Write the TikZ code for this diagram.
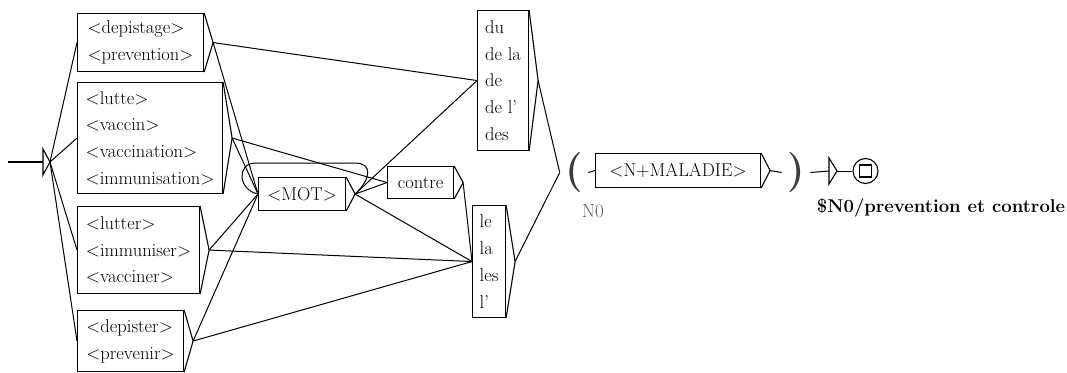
\documentclass[tikz,border=0pt]{standalone}
\usetikzlibrary{calc}

\definecolor{vargray}{RGB}{60,60,60}
\definecolor{labgray}{RGB}{95,95,95}

\tikzset{
  unibox/.style={draw, align=left, anchor=north west, inner xsep=3pt, inner ysep=0pt,
    font=\fontsize{18.5}{26.7}\selectfont},
  varpar/.style={inner xsep=5pt, inner ysep=0pt, text=vargray,
    font=\fontsize{40}{40}\selectfont\bfseries},
  link/.style={line width=1pt},
}

\begin{document}
\begin{tikzpicture}[x=1pt, y=-1pt, line width=1.1pt]
    \useasboundingbox (0,0) rectangle (1067,372);

    % initial state
    \coordinate (init) at (8,162);
    \draw (init) -- (43,162);
    \draw (43,149) -- (50,162) coordinate (init-out) -- (43,175) -- cycle;

    % boxes
    \node[unibox, minimum width=126, minimum height=58] (dep) at (77,13)
        {<depistage>\\<prevention>};
    \node[unibox, minimum width=145, minimum height=111] (lut) at (77,82)
        {<lutte>\\<vaccin>\\<vaccination>\\<immunisation>};
    \node[unibox, minimum width=122, minimum height=87] (ltr) at (77,206)
        {<lutter>\\<immuniser>\\<vacciner>};
    \node[unibox, minimum width=106, minimum height=61] (dpr) at (77,310)
        {<depister>\\<prevenir>};
    \node[unibox, minimum width=87, minimum height=33] (mot) at (258,177) {<MOT>};
    \node[unibox, minimum width=66, minimum height=32] (ctr) at (387,166) {contre};
    \node[unibox, minimum width=51, minimum height=140] (art1) at (477,10)
        {du\\de la\\de\\de l'\\des};
    \node[unibox, minimum width=33, minimum height=112] (art2) at (472,205)
        {le\\la\\les\\l'};
    \node[unibox, minimum width=165, minimum height=34] (mal) at (595,153) {<N+MALADIE>};

    % output triangles
    \foreach \n in {dep,lut,ltr,dpr,mot,ctr,art1,art2,mal}
        \draw (\n.north east) -- ([xshift=9pt]\n.east) coordinate (\n-out) -- (\n.south east);

    % variable N0
    \node[varpar] (vopen) at (574,172.5) {(};
    \node[varpar] (vclose) at (796,172.5) {)};
    \node[anchor=base west, text=labgray, font=\fontsize{19}{19}\selectfont] (vname)
        at (578,217) {N0};

    % final part
    \coordinate (eps) at (829,171);
    \draw (eps) ++(0,-13) -- ++(8,13) coordinate (eps-out) -- ++(-8,13) -- cycle;
    \node[draw, circle, minimum size=25, inner sep=0pt] (fin) at (865.5,171) {};
    \node[draw, minimum size=12, inner sep=0pt] (finsq) at (fin) {};
    \node[anchor=base west, font=\fontsize{18.5}{18.5}\selectfont\bfseries] (outlab)
        at (813,212) {\$N0/prevention et controle};

    % transitions
    \foreach \t in {dep,lut,ltr,dpr}
        \draw[link] (init-out) -- (\t.west);
    \draw[link] (dep-out) -- (art1.west);
    \draw[link] (dep-out) -- (mot.west);
    \draw[link] (lut-out) -- (mot.west);
    \draw[link] (lut-out) -- (ctr.west);
    \draw[link] (ltr-out) -- (mot.west);
    \draw[link] (ltr-out) -- (art2.west);
    \draw[link] (dpr-out) -- (mot.west);
    \draw[link] (dpr-out) -- (art2.west);
    \draw[link] (mot-out) -- (art1.west);
    \draw[link] (mot-out) -- (ctr.west);
    \draw[link] (mot-out) -- (art2.west);
    \draw[link] (ctr-out) -- (art2.west);
    % loop on <MOT>
    \draw[link] (mot-out) .. controls (372,178) and (372,163) .. (355,163) -- (256,163)
        .. controls (236,163) and (238,190) .. (mot.west);
    \draw[link] (art1-out) -- (vopen.west);
    \draw[link] (art2-out) -- (vopen.west);
    \draw[link] (vopen.east) -- (mal.west);
    \draw[link] (mal-out) -- (vclose.west);
    \draw[link] (vclose.east) -- (eps);
    \draw[link] (eps-out) -- (fin.west);
\end{tikzpicture}
\end{document}
